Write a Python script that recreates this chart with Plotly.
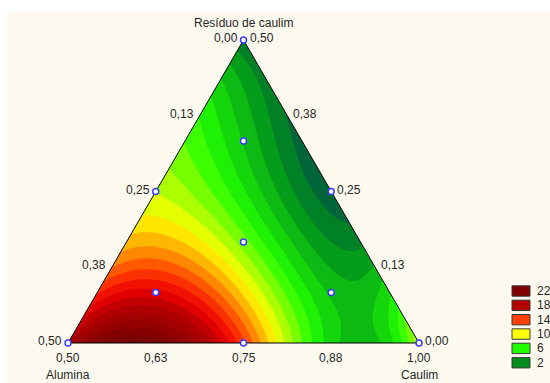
import numpy as np
import plotly.graph_objects as go

# ---------------- data ----------------
# Response read on a lattice of pseudo-components (step 1/8).
# row k -> Residuo pseudo fraction r = k/8 ; item j -> Caulim pseudo fraction c = j/8
resp_r0 = [19.0, 22.5, 23.0, 19.5, 13.5, 8.0, 4.5, 4.6, 8.5]
resp_r1 = [16.0, 17.5, 17.5, 14.8, 10.5, 5.5, 3.0, 5.8]
resp_r2 = [12.5, 13.5, 12.0, 9.0, 5.8, 2.0, 4.0]
resp_r3 = [11.5, 10.0, 7.5, 4.5, 2.3, 0.8]
resp_r4 = [9.0, 7.0, 5.3, 2.7, 0.5]
resp_r5 = [7.5, 6.0, 3.5, 0.5]
resp_r6 = [6.0, 4.2, 0.5]
resp_r7 = [3.0, 0.9]
resp_r8 = [1.6]

level_start, level_end, level_step = 0, 24, 1
legend_values = [22, 18, 14, 10, 6, 2]
color_values = [-0.5, 0.5, 2, 6, 10, 14, 16, 18, 22, 24.5]
color_hex = ['#005040', '#00663A', '#008F1E', '#22FF00', '#FFFF00',
             '#FF4000', '#EE0000', '#B40000', '#800000', '#680000']

bottom_ticks = ['0,50', '0,63', '0,75', '0,88', '1,00']   # Caulim
bottom_vals = [0.5, 0.625, 0.75, 0.875, 1.0]
left_ticks = ['0,50', '0,38', '0,25', '0,13', '0,00']     # Alumina
left_vals = [0.5, 0.375, 0.25, 0.125, 0.0]
right_ticks = ['0,00', '0,13', '0,25', '0,38', '0,50']    # Residuo
right_vals = [0.0, 0.125, 0.25, 0.375, 0.5]

# design points (pseudo-components: alumina, caulim, residuo)
design_a = [1, 0, 0, 0.5, 0.5, 0, 1/3, 2/3, 1/6, 1/6]
design_c = [0, 1, 0, 0.5, 0, 0.5, 1/3, 1/6, 2/3, 1/6]
design_r = [0, 0, 1, 0, 0.5, 0.5, 1/3, 1/6, 1/6, 2/3]

# ---------------- geometry helpers ----------------
W, H = 550, 383
X0, Y0, SIDE = 68, 343, 351          # bottom-left vertex pixel and side length (px)
h = 303 / 351                        # triangle height in side units


def to_uv(c, r):
    c = np.asarray(c, float); r = np.asarray(r, float)
    return c + r / 2, r * h


def hex2rgb(s):
    s = s.lstrip('#')
    return tuple(int(s[i:i + 2], 16) for i in (0, 2, 4))


def color_at(v):
    rgb = [np.interp(v, color_values, [hex2rgb(c)[k] for c in color_hex]) for k in range(3)]
    return 'rgb(%d,%d,%d)' % tuple(int(round(x)) for x in rgb)


# ---------------- response surface fit ----------------
rows = [resp_r0, resp_r1, resp_r2, resp_r3, resp_r4, resp_r5, resp_r6, resp_r7, resp_r8]
pc, pr, pz = [], [], []
for k, row in enumerate(rows):
    for j, val in enumerate(row):
        pc.append(j / 8); pr.append(k / 8); pz.append(val)
pc, pr, pz = map(np.array, (pc, pr, pz))


def basis(c, r, deg=4):
    return np.stack([c ** i * r ** j for i in range(deg + 1) for j in range(deg + 1 - i)], axis=-1)


coef = np.linalg.lstsq(basis(pc, pr), pz, rcond=None)[0]

gu = np.linspace(0, 1, 352)
gv = np.linspace(0, h, 305)
UU, VV = np.meshgrid(gu, gv)
RR = VV / h
CC = UU - RR / 2
ZZ = basis(CC, RR) @ coef

lo = level_start - level_step / 2
hi = level_end + level_step / 2
colorscale = [[(v - lo) / (hi - lo), c] for v, c in zip(color_values, color_hex)]

cream = '#FEFAF0'
fig = go.Figure()
fig.add_trace(go.Contour(
    x=gu, y=gv, z=ZZ, autocontour=False,
    contours=dict(start=level_start, end=level_end, size=level_step,
                  coloring='fill', showlines=False),
    line=dict(width=0), colorscale=colorscale, showscale=False, hoverinfo='skip'))

# masks outside the triangle
e = 0.03
fig.add_trace(go.Scatter(x=[0, 0.5, 0.5, -e, -e, 0], y=[0, h, h + e, h + e, -0.01, -0.01],
                         fill='toself', fillcolor=cream, mode='lines', line=dict(width=0),
                         hoverinfo='skip', showlegend=False))
fig.add_trace(go.Scatter(x=[1, 0.5, 0.5, 1 + e, 1 + e, 1], y=[0, h, h + e, h + e, -0.01, -0.01],
                         fill='toself', fillcolor=cream, mode='lines', line=dict(width=0),
                         hoverinfo='skip', showlegend=False))
# triangle outline
tu, tv = to_uv([0, 1, 0, 0], [0, 0, 1, 0])
fig.add_trace(go.Scatter(x=tu, y=tv, mode='lines', line=dict(color='black', width=1),
                         hoverinfo='skip', showlegend=False))
# design points
du, dv = to_uv(design_c, design_r)
fig.add_trace(go.Scatter(x=du, y=dv, mode='markers',
                         marker=dict(size=6, color='white', line=dict(color='#3C3CFF', width=1.5)),
                         hoverinfo='skip', showlegend=False))

font = dict(family='Liberation Sans, Arial, sans-serif', size=12, color='#262626')
ann = []
for t, val in zip(left_ticks, left_vals):
    r = 1 - 2 * val
    u, v = to_uv(0, r)
    ann.append(dict(x=float(u), y=float(v), text=t, xanchor='right', yanchor='middle',
                    xshift=-4, yshift=2, showarrow=False, font=font))
for t, val in zip(right_ticks, right_vals):
    r = 2 * val
    u, v = to_uv(1 - r, r)
    ann.append(dict(x=float(u), y=float(v), text=t, xanchor='left', yanchor='middle',
                    xshift=4, yshift=2, showarrow=False, font=font))
for t, val in zip(bottom_ticks, bottom_vals):
    u, v = to_uv(2 * val - 1, 0)
    ann.append(dict(x=float(u), y=float(v), text=t, xanchor='center', yanchor='middle',
                    yshift=-14.5, showarrow=False, font=font))
ann.append(dict(x=0.0, y=0.0, text='Alumina', xanchor='center', yanchor='middle',
                yshift=-32, showarrow=False, font=font))
ann.append(dict(x=1.0, y=0.0, text='Caulim', xanchor='center', yanchor='middle',
                yshift=-32, showarrow=False, font=font))
ann.append(dict(x=0.5, y=h, text='Resíduo de caulim', xanchor='center', yanchor='middle',
                yshift=17.5, showarrow=False, font=font))

# legend (swatches + labels), pixel layout converted to paper coords
shapes = [dict(type='rect', xref='paper', yref='paper', x0=7 / W, x1=1, y0=0, y1=1 - 12 / H,
               fillcolor=cream, line=dict(width=0), layer='below')]
for i, val in enumerate(legend_values):
    cy = 291 + 14.35 * i
    shapes.append(dict(type='rect', xref='paper', yref='paper',
                       x0=512 / W, x1=530 / W, y0=1 - (cy + 5.2) / H, y1=1 - (cy - 5.2) / H,
                       fillcolor=color_at(val), line=dict(color='#3a3a3a', width=1)))
    ann.append(dict(x=535 / W, y=1 - cy / H, xref='paper', yref='paper', text=str(val),
                    xanchor='left', yanchor='middle', showarrow=False, font=font))

fig.update_layout(
    width=W, height=H, margin=dict(l=0, r=0, t=0, b=0),
    paper_bgcolor='white', plot_bgcolor='white', showlegend=False,
    xaxis=dict(range=[-X0 / SIDE, (W - X0) / SIDE], visible=False, fixedrange=True),
    yaxis=dict(range=[(Y0 - H) / SIDE, Y0 / SIDE], visible=False, fixedrange=True),
    annotations=ann, shapes=shapes)

fig.write_html('out.html')
